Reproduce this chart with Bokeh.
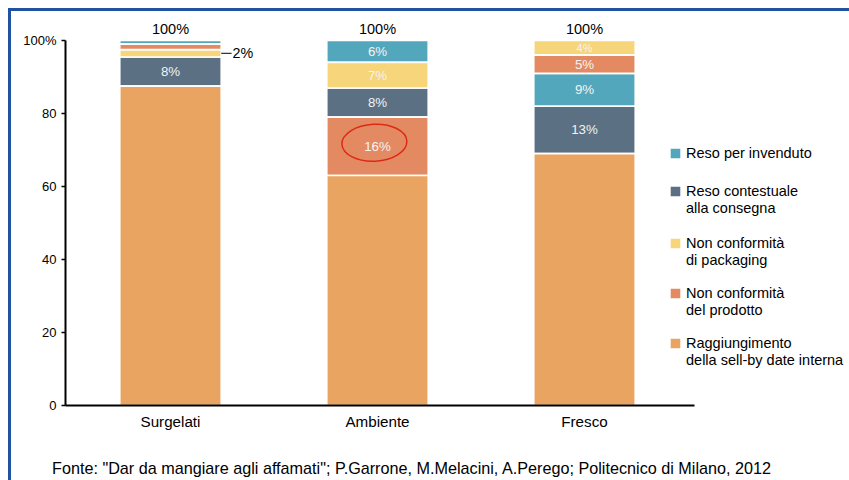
import html

from bokeh.plotting import figure
from bokeh.layouts import column
from bokeh.models import Range1d, FixedTicker, Legend, LegendItem, ColumnDataSource, Div
from bokeh.embed import file_html
from bokeh.resources import INLINE
from bokeh.core.properties import value

# --- data -----------------------------------------------------------------
categories = ["Surgelati", "Ambiente", "Fresco"]

# share of returns/waste by cause (%), one entry per category
raggiungimento = [87.5, 63, 69]
prodotto = [1.5, 16, 5]
packaging = [2, 7, 4]
contestuale = [8, 8, 13]
invenduto = [1, 6, 9]

series_keys = ["invenduto", "contestuale", "packaging", "prodotto", "raggiungimento"]
series_labels = [
    "Reso per invenduto",
    "Reso contestuale\nalla consegna",
    "Non conformità\ndi packaging",
    "Non conformità\ndel prodotto",
    "Raggiungimento\ndella sell-by date interna",
]
series_colors = ["#53a7bc", "#5b7083", "#f7d57a", "#e48a63", "#e9a461"]

# stacking order (bottom -> top) differs per category
stack_order = {
    "Surgelati": ["raggiungimento", "contestuale", "packaging", "prodotto", "invenduto"],
    "Ambiente": ["raggiungimento", "prodotto", "contestuale", "packaging", "invenduto"],
    "Fresco": ["raggiungimento", "contestuale", "invenduto", "prodotto", "packaging"],
}
# segments that carry a value label inside the bar
inside_labels = {
    "Surgelati": ["contestuale"],
    "Ambiente": ["invenduto", "packaging", "contestuale", "prodotto"],
    "Fresco": ["packaging", "prodotto", "invenduto", "contestuale"],
}
# segment labelled outside the bar with a leader line
callout = ("Surgelati", "packaging")
# segment highlighted with a hand-drawn red ring
highlight = ("Ambiente", "prodotto")

source_note = ('Fonte: "Dar da mangiare agli affamati"; P.Garrone, M.Melacini, '
               'A.Perego; Politecnico di Milano, 2012')

values = {
    "raggiungimento": raggiungimento,
    "prodotto": prodotto,
    "packaging": packaging,
    "contestuale": contestuale,
    "invenduto": invenduto,
}

FONT = "Liberation Sans"
BAR_W = 0.49

# --- main chart -----------------------------------------------------------
p = figure(
    width=838, height=439,
    x_range=Range1d(-0.5072, 3.2802), y_range=Range1d(0, 107.95),
    output_backend="svg", toolbar_location=None,
    min_border_left=54, min_border_right=0, min_border_top=0, min_border_bottom=45,
)
p.outline_line_color = None
p.xgrid.visible = False
p.ygrid.visible = False
p.background_fill_color = "white"
p.border_fill_color = "white"

# compute stacked extents per series
extents = {k: {"x": [], "bottom": [], "top": []} for k in series_keys}
for i, cat in enumerate(categories):
    base = 0.0
    for key in stack_order[cat]:
        v = values[key][i]
        extents[key]["x"].append(i)
        extents[key]["bottom"].append(base)
        extents[key]["top"].append(base + v)
        base += v

renderers = {}
for key, color in zip(series_keys, series_colors):
    src = ColumnDataSource(extents[key])
    renderers[key] = p.vbar(
        x="x", bottom="bottom", top="top", width=BAR_W, source=src,
        fill_color=color, line_color="white", line_width=1.6,
    )

# value labels inside segments
lx, ly, lt, ls = [], [], [], []
for i, cat in enumerate(categories):
    for key in inside_labels[cat]:
        v = values[key][i]
        j = extents[key]["x"].index(i)
        mid = (extents[key]["bottom"][j] + extents[key]["top"][j]) / 2
        lx.append(i)
        ly.append(mid)
        lt.append(f"{v:g}%")
        ls.append("11px" if v < 4.5 else "13.3px")
p.text(
    x="x", y="y", text="t", text_font_size="s",
    source=ColumnDataSource(dict(x=lx, y=ly, t=lt, s=ls)),
    text_color="#f3f3f3", text_align="center", text_baseline="middle",
    text_font=value(FONT),
)

# outside label with leader line
ci = categories.index(callout[0])
cj = extents[callout[1]]["x"].index(ci)
cy = (extents[callout[1]]["bottom"][cj] + extents[callout[1]]["top"][cj]) / 2
cx0 = ci + BAR_W / 2
p.segment(x0=[cx0], y0=[cy], x1=[cx0 + 0.05], y1=[cy], line_color="black", line_width=1)
p.text(
    x=[cx0 + 0.05], y=[cy], text=[f"{values[callout[1]][ci]:g}%"],
    text_font_size="14.3px", text_color="black", text_align="left",
    text_baseline="middle", text_font=value(FONT), x_offset=1,
)

# totals above bars
totals = [sum(values[k][i] for k in series_keys) for i in range(len(categories))]
p.text(
    x=list(range(len(categories))), y=totals, text=[f"{t:g}%" for t in totals],
    text_font_size="14.5px", text_color="black", text_align="center",
    text_baseline="bottom", y_offset=-4, text_font=value(FONT),
)

# red hand-drawn ring around the highlighted segment label
hi = categories.index(highlight[0])
hj = extents[highlight[1]]["x"].index(hi)
hy = (extents[highlight[1]]["bottom"][hj] + extents[highlight[1]]["top"][hj]) / 2
p.ellipse(
    x=[hi - 0.015], y=[hy + 1.0], width=[65], height=[37],
    width_units="screen", height_units="screen", angle=0.05,
    fill_color=None, line_color="#dd2a17", line_width=1.5,
)

# --- axes -----------------------------------------------------------------
yax = p.yaxis[0]
yax.ticker = FixedTicker(ticks=[0, 20, 40, 60, 80, 100])
yax.major_label_overrides = {100: "100%"}
yax.bounds = (0, 100)
yax.axis_line_width = 2
yax.axis_line_color = "black"
yax.major_tick_line_color = "black"
yax.major_tick_line_width = 1.5
yax.major_tick_out = 4
yax.major_tick_in = 0
yax.minor_tick_line_color = None
yax.major_label_standoff = 5
yax.major_label_text_font = FONT
yax.major_label_text_font_size = "13px"
yax.major_label_text_color = "black"

xax = p.xaxis[0]
xax.ticker = FixedTicker(ticks=list(range(len(categories))))
xax.major_label_overrides = {i: c for i, c in enumerate(categories)}
xax.bounds = (-0.5072, 2.531)
xax.axis_line_width = 2
xax.axis_line_color = "black"
xax.major_tick_line_color = None
xax.minor_tick_line_color = None
xax.major_label_standoff = 1
xax.major_label_text_font = FONT
xax.major_label_text_font_size = "15.2px"
xax.major_label_text_color = "black"

# --- legend ---------------------------------------------------------------
# one small legend per series: the swatch sits beside the first text line,
# a continuation line (if any) follows with an invisible swatch
blank = p.vbar(x=[], top=[], width=0.1, fill_alpha=0, line_alpha=0)
legend_bottoms = [244.5, 189.5, 137.5, 87.5, 37.5]
for key, lab, ybot in zip(series_keys, series_labels, legend_bottoms):
    lines = lab.split("\n")
    items = [LegendItem(label=lines[0], renderers=[renderers[key]])]
    for extra in lines[1:]:
        items.append(LegendItem(label=extra, renderers=[blank]))
    p.add_layout(Legend(
        items=items, location=(603, ybot),
        glyph_width=14, glyph_height=14, label_height=14, spacing=1,
        padding=0, margin=0, label_standoff=4,
        label_text_font=FONT, label_text_font_size="14.5px",
        label_text_color="black", border_line_color=None,
        background_fill_alpha=0, inactive_fill_alpha=0,
    ))

# --- source note ----------------------------------------------------------
note = Div(
    text=(
        '<div style="padding-left:36px; line-height:26px; white-space:nowrap; '
        f'font-family:\'{FONT}\'; font-size:16.2px; color:#000;">'
        f"{html.escape(source_note, quote=False)}</div>"
    ),
    width=838, height=30,
)

page = column(p, note, spacing=0)
page.styles = {
    "margin-left": "8px", "margin-top": "8px",
    "border-left": "3px solid #1f52a3", "border-top": "3px solid #1f52a3",
}

open("out.html", "w").write(file_html(page, INLINE))
